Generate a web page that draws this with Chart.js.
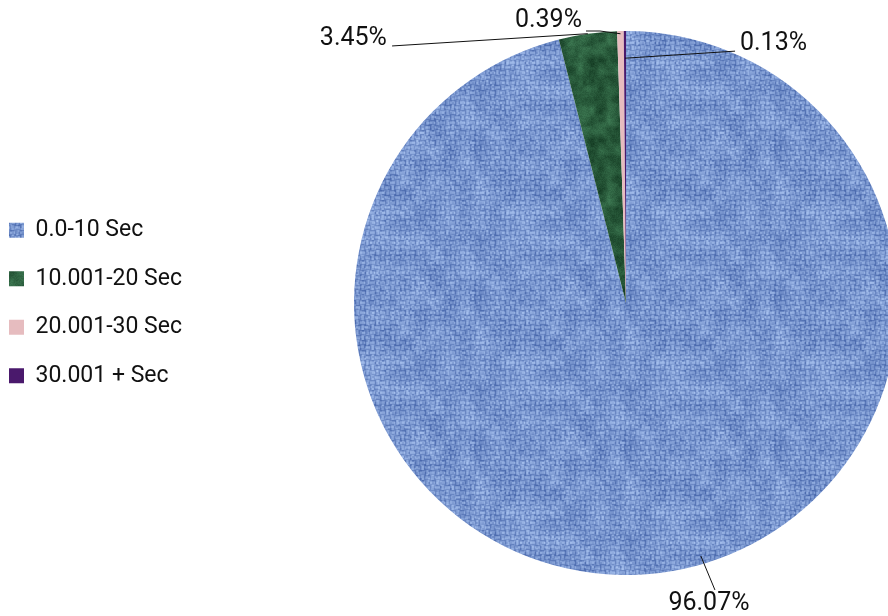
<!DOCTYPE html>
<html>
<head>
<meta charset="utf-8">
<script src="https://cdn.jsdelivr.net/npm/chart.js@4.4.1/dist/chart.umd.min.js"></script>
<style>
  html, body { margin: 0; padding: 0; background: #fff; overflow: hidden; }
  #wrap { position: relative; width: 1100px; height: 616px; }
</style>
</head>
<body>
<div id="wrap"><canvas id="pieChart"></canvas></div>
<script>
// data
const categories = ['0.0-10 Sec', '10.001-20 Sec', '20.001-30 Sec', '30.001 + Sec'];
const shares = [96.07, 3.45, 0.39, 0.13];

// where each percentage label sits (units of the pie radius, from the centre)
// t = point along the slice, k = depth of the leader start
const labelSpots = [
  { t: 0.473, k: 0.97, line: [[0.327, 1.055]], text: [0.305, 1.107], align: 'center' },
  { t: 0.5, k: 1.0, line: [[-0.860, -0.945]], text: [-0.879, -0.972], align: 'right' },
  { t: 0.5, k: 0.99, line: [[-0.0956, -1.0], [-0.147, -1.0]], text: [-0.162, -1.037], align: 'right' },
  { t: 0.5, k: 0.90, line: [[0.401, -0.926]], text: [0.419, -0.954], align: 'left' }
];

// --- textures (deterministic noise, only for looks) ---
function hash(x, y, s) {
  let h = Math.imul(x, 374761393) + Math.imul(y, 668265263) + Math.imul(s, 982451653);
  h = Math.imul(h ^ (h >>> 13), 1274126177);
  h = h ^ (h >>> 16);
  return (h >>> 0) / 4294967295;
}
function valueNoise(x, y, scale, size, seed) {
  const g = size / scale;
  const fx = x / scale, fy = y / scale;
  const x0 = Math.floor(fx), y0 = Math.floor(fy);
  const tx = fx - x0, ty = fy - y0;
  const sx = tx * tx * (3 - 2 * tx), sy = ty * ty * (3 - 2 * ty);
  const v = (i, j) => hash(((i % g) + g) % g, ((j % g) + g) % g, seed);
  const a = v(x0, y0), b = v(x0 + 1, y0), c = v(x0, y0 + 1), d = v(x0 + 1, y0 + 1);
  return (a * (1 - sx) + b * sx) * (1 - sy) + (c * (1 - sx) + d * sx) * sy;
}
function makeTile(size, shade, dark, light) {
  const c = document.createElement('canvas');
  c.width = size; c.height = size;
  const g = c.getContext('2d');
  const img = g.createImageData(size, size);
  for (let y = 0; y < size; y++) {
    for (let x = 0; x < size; x++) {
      const v = Math.max(0, Math.min(1, shade(x, y)));
      const i = (y * size + x) * 4;
      img.data[i] = dark[0] + (light[0] - dark[0]) * v;
      img.data[i + 1] = dark[1] + (light[1] - dark[1]) * v;
      img.data[i + 2] = dark[2] + (light[2] - dark[2]) * v;
      img.data[i + 3] = 255;
    }
  }
  g.putImageData(img, 0, 0);
  return g.createPattern(c, 'repeat');
}

const ctx = document.getElementById('pieChart').getContext('2d');

// burlap-like blue weave
const threadProfile = [0.2, 0.7, 0.95, 0.85, 0.4];
const blueFill = makeTile(150, (x, y) => {
  const cx = Math.floor(x / 5), cy = Math.floor(y / 5);
  const horiz = (cx + cy) % 2 === 0;
  const thread = threadProfile[horiz ? y % 5 : x % 5];
  const fine = hash(Math.floor(x / 2), Math.floor(y / 2), 3);
  const coarse = valueNoise(x, y, 15, 150, 7);
  return 0.45 * thread + 0.3 * fine + 0.25 * coarse;
}, [58, 90, 162], [172, 198, 242]);

// mottled dark green
const greenFill = makeTile(80, (x, y) => {
  return 0.55 * valueNoise(x, y, 10, 80, 11) + 0.25 * valueNoise(x, y, 4, 80, 5) + 0.2 * hash(x, y, 9);
}, [14, 50, 28], [66, 128, 88]);

const pinkFill = '#e6bcbf';
const purpleFill = '#4a196c';
const fills = [blueFill, greenFill, pinkFill, purpleFill];

// leader lines + percentage labels
const leaderLabels = {
  id: 'leaderLabels',
  afterDatasetsDraw(chart) {
    const meta = chart.getDatasetMeta(0);
    const c = chart.ctx;
    c.save();
    c.font = '25px Roboto';
    c.fillStyle = '#111';
    c.strokeStyle = '#111';
    c.lineWidth = 1;
    c.textBaseline = 'middle';
    meta.data.forEach((arc, i) => {
      const p = arc.getProps(['x', 'y', 'startAngle', 'endAngle', 'outerRadius'], true);
      const spot = labelSpots[i];
      const R = p.outerRadius;
      const a = p.startAngle + (p.endAngle - p.startAngle) * spot.t;
      c.beginPath();
      c.moveTo(p.x + Math.cos(a) * R * spot.k, p.y + Math.sin(a) * R * spot.k);
      spot.line.forEach(pt => c.lineTo(p.x + pt[0] * R, p.y + pt[1] * R));
      c.stroke();
      c.textAlign = spot.align;
      c.fillText(shares[i].toFixed(2) + '%', p.x + spot.text[0] * R, p.y + spot.text[1] * R);
    });
    c.restore();
  }
};

Chart.defaults.font.family = 'Roboto';

new Chart(ctx, {
  type: 'pie',
  data: {
    labels: categories,
    datasets: [{
      data: shares,
      backgroundColor: fills,
      borderWidth: 0
    }]
  },
  options: {
    responsive: true,
    maintainAspectRatio: false,
    animation: false,
    events: [],
    layout: { padding: { top: 31, bottom: 41, left: -16.5, right: 40 } },
    plugins: {
      legend: {
        position: 'left',
        labels: {
          font: { family: 'Roboto', size: 23 },
          color: '#111',
          boxWidth: 15,
          boxHeight: 15,
          padding: 25.5
        }
      },
      tooltip: { enabled: false }
    }
  },
  plugins: [leaderLabels]
});
</script>
</body>
</html>
